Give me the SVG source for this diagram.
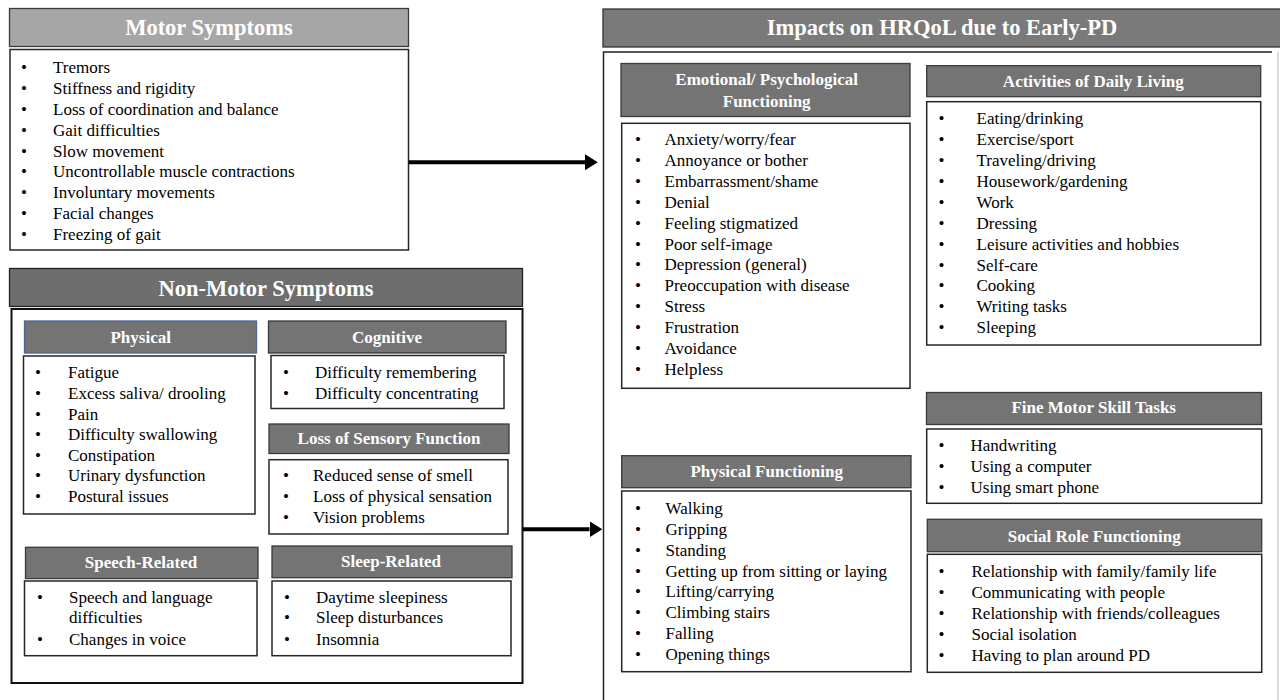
<svg xmlns="http://www.w3.org/2000/svg" width="1280" height="700" viewBox="0 0 1280 700">
<defs>
<style>
.hd{fill:#747474;stroke:#3a3a3a;stroke-width:1.3}
.lb{fill:#fff;stroke:#262626;stroke-width:1.5}
.ht{font-family:"Liberation Serif","Times New Roman",serif;font-weight:bold;fill:#fff;font-size:17px;text-anchor:middle}
.big{font-size:22.5px}
.it{font-family:"Liberation Serif","Times New Roman",serif;font-size:17px;fill:#000}
.bu{font-family:"Liberation Serif","Times New Roman",serif;font-size:17px;fill:#000;text-anchor:middle}
.ar{stroke:#000;stroke-width:4;fill:none}
</style>
<marker id="ah" markerWidth="4" markerHeight="4" refX="0" refY="2" orient="auto" markerUnits="strokeWidth"><path d="M0,0 L3.2,2 L0,4 Z" fill="#000"/></marker>
</defs>
<rect width="1280" height="700" fill="#fff"/>

<g id="motor">
<rect class="hd" x="9.5" y="8.5" width="399" height="38" style="fill:#a6a6a6"/>
<text class="ht big" x="209" y="35">Motor Symptoms</text>
<rect class="lb" x="10" y="49.5" width="398.5" height="200.5"/>
<g class="bu"><text x="24" y="73.3">•</text><text x="24" y="94.1">•</text><text x="24" y="114.9">•</text><text x="24" y="135.7">•</text><text x="24" y="156.5">•</text><text x="24" y="177.3">•</text><text x="24" y="198.1">•</text><text x="24" y="218.9">•</text><text x="24" y="239.7">•</text></g>
<g class="it">
<text x="53" y="73.3">Tremors</text>
<text x="53" y="94.1">Stiffness and rigidity</text>
<text x="53" y="114.9">Loss of coordination and balance</text>
<text x="53" y="135.7">Gait difficulties</text>
<text x="53" y="156.5">Slow movement</text>
<text x="53" y="177.3">Uncontrollable muscle contractions</text>
<text x="53" y="198.1">Involuntary movements</text>
<text x="53" y="218.9">Facial changes</text>
<text x="53" y="239.7">Freezing of gait</text>
</g>
</g>

<g id="nonmotor">
<rect class="hd" x="9.5" y="268.5" width="513" height="38" style="fill:#6e6e6e;stroke:#222"/>
<text class="ht big" x="266" y="296">Non-Motor Symptoms</text>
<rect x="11.5" y="309" width="511" height="374" fill="#fff" stroke="#111" stroke-width="2"/>
</g>

<g id="physical">
<rect class="hd" x="24.5" y="321" width="232" height="32" style="stroke:#4a6796"/>
<text class="ht" x="140.7" y="343">Physical</text>
<rect class="lb" x="23.5" y="356" width="231.5" height="158"/>
<g class="bu"><text x="38" y="378.3">•</text><text x="38" y="398.9">•</text><text x="38" y="419.5">•</text><text x="38" y="440.1">•</text><text x="38" y="460.7">•</text><text x="38" y="481.3">•</text><text x="38" y="501.9">•</text></g>
<g class="it">
<text x="68" y="378.3">Fatigue</text>
<text x="68" y="398.9">Excess saliva/ drooling</text>
<text x="68" y="419.5">Pain</text>
<text x="68" y="440.1">Difficulty swallowing</text>
<text x="68" y="460.7">Constipation</text>
<text x="68" y="481.3">Urinary dysfunction</text>
<text x="68" y="501.9">Postural issues</text>
</g>
</g>

<g id="cognitive">
<rect class="hd" x="268.5" y="321" width="237.5" height="32"/>
<text class="ht" x="387" y="343">Cognitive</text>
<rect class="lb" x="271" y="355.5" width="233" height="53"/>
<g class="bu"><text x="286" y="378.3">•</text><text x="286" y="399">•</text></g>
<g class="it">
<text x="315" y="378.3">Difficulty remembering</text>
<text x="315" y="399">Difficulty concentrating</text>
</g>
</g>

<g id="sensory">
<rect class="hd" x="269" y="424" width="240" height="29.5"/>
<text class="ht" x="389" y="444">Loss of Sensory Function</text>
<rect class="lb" x="269" y="459.7" width="239" height="74.3"/>
<g class="bu"><text x="286" y="481">•</text><text x="286" y="502">•</text><text x="286" y="523">•</text></g>
<g class="it">
<text x="313" y="481">Reduced sense of smell</text>
<text x="313" y="502">Loss of physical sensation</text>
<text x="313" y="523">Vision problems</text>
</g>
</g>

<g id="speech">
<rect class="hd" x="25.5" y="547.3" width="232.5" height="31.3"/>
<text class="ht" x="141" y="568">Speech-Related</text>
<rect class="lb" x="24.5" y="581" width="232.5" height="74.7"/>
<g class="bu"><text x="40" y="602.5">•</text><text x="40" y="644.5">•</text></g>
<g class="it">
<text x="69" y="602.5">Speech and language</text>
<text x="69" y="623.3">difficulties</text>
<text x="69" y="644.5">Changes in voice</text>
</g>
</g>

<g id="sleep">
<rect class="hd" x="272" y="546" width="240" height="31.7"/>
<text class="ht" x="391" y="567">Sleep-Related</text>
<rect class="lb" x="272" y="581" width="239" height="74.7"/>
<g class="bu"><text x="287" y="602.5">•</text><text x="287" y="623.3">•</text><text x="287" y="644.5">•</text></g>
<g class="it">
<text x="316" y="602.5">Daytime sleepiness</text>
<text x="316" y="623.3">Sleep disturbances</text>
<text x="316" y="644.5">Insomnia</text>
</g>
</g>

<g id="impacts">
<rect class="hd" x="603" y="9" width="690" height="38" style="fill:#7a7a7a;stroke:#333"/>
<text class="ht big" x="942" y="35">Impacts on HRQoL due to Early-PD</text>
<path d="M603.5,702 V52 H1272" fill="none" stroke="#222" stroke-width="1.5"/>
<line x1="1278" y1="52" x2="1278" y2="700" stroke="#d0d0d0" stroke-width="1.5"/>
</g>

<g id="emotional">
<rect class="hd" x="621" y="63.5" width="289" height="53"/>
<text class="ht" x="766.7" y="85">Emotional/ Psychological</text>
<text class="ht" x="766.7" y="106.7">Functioning</text>
<rect class="lb" x="621.7" y="123.3" width="288.3" height="265"/>
<g class="bu"><text x="638" y="145">•</text><text x="638" y="165.9">•</text><text x="638" y="186.8">•</text><text x="638" y="207.7">•</text><text x="638" y="228.6">•</text><text x="638" y="249.5">•</text><text x="638" y="270.4">•</text><text x="638" y="291.3">•</text><text x="638" y="312.2">•</text><text x="638" y="333.1">•</text><text x="638" y="354">•</text><text x="638" y="374.9">•</text></g>
<g class="it">
<text x="664.5" y="145">Anxiety/worry/fear</text>
<text x="664.5" y="165.9">Annoyance or bother</text>
<text x="664.5" y="186.8">Embarrassment/shame</text>
<text x="664.5" y="207.7">Denial</text>
<text x="664.5" y="228.6">Feeling stigmatized</text>
<text x="664.5" y="249.5">Poor self-image</text>
<text x="664.5" y="270.4">Depression (general)</text>
<text x="664.5" y="291.3">Preoccupation with disease</text>
<text x="664.5" y="312.2">Stress</text>
<text x="664.5" y="333.1">Frustration</text>
<text x="664.5" y="354">Avoidance</text>
<text x="664.5" y="374.9">Helpless</text>
</g>
</g>

<g id="adl">
<rect class="hd" x="926.7" y="65.7" width="334" height="31"/>
<text class="ht" x="1093.3" y="86.7">Activities of Daily Living</text>
<rect class="lb" x="926.7" y="101.7" width="334" height="243.3"/>
<g class="bu"><text x="941.5" y="124">•</text><text x="941.5" y="144.9">•</text><text x="941.5" y="165.9">•</text><text x="941.5" y="186.8">•</text><text x="941.5" y="207.7">•</text><text x="941.5" y="228.7">•</text><text x="941.5" y="249.6">•</text><text x="941.5" y="270.5">•</text><text x="941.5" y="291.4">•</text><text x="941.5" y="312.4">•</text><text x="941.5" y="333.3">•</text></g>
<g class="it">
<text x="976.5" y="124">Eating/drinking</text>
<text x="976.5" y="144.9">Exercise/sport</text>
<text x="976.5" y="165.9">Traveling/driving</text>
<text x="976.5" y="186.8">Housework/gardening</text>
<text x="976.5" y="207.7">Work</text>
<text x="976.5" y="228.7">Dressing</text>
<text x="976.5" y="249.6">Leisure activities and hobbies</text>
<text x="976.5" y="270.5">Self-care</text>
<text x="976.5" y="291.4">Cooking</text>
<text x="976.5" y="312.4">Writing tasks</text>
<text x="976.5" y="333.3">Sleeping</text>
</g>
</g>

<g id="finemotor">
<rect class="hd" x="926.5" y="392.5" width="335" height="32"/>
<text class="ht" x="1093.7" y="413.3">Fine Motor Skill Tasks</text>
<rect class="lb" x="926.7" y="429" width="335" height="74.3"/>
<g class="bu"><text x="941.5" y="450.7">•</text><text x="941.5" y="471.6">•</text><text x="941.5" y="492.5">•</text></g>
<g class="it">
<text x="970.5" y="450.7">Handwriting</text>
<text x="970.5" y="471.6">Using a computer</text>
<text x="970.5" y="492.5">Using smart phone</text>
</g>
</g>

<g id="social">
<rect class="hd" x="927.3" y="519.3" width="334.4" height="32.4"/>
<text class="ht" x="1094.3" y="541.7">Social Role Functioning</text>
<rect class="lb" x="927.3" y="554.3" width="334.4" height="118"/>
<g class="bu"><text x="941.5" y="577.3">•</text><text x="941.5" y="598.3">•</text><text x="941.5" y="619.3">•</text><text x="941.5" y="640.3">•</text><text x="941.5" y="661.3">•</text></g>
<g class="it">
<text x="971.5" y="577.3">Relationship with family/family life</text>
<text x="971.5" y="598.3">Communicating with people</text>
<text x="971.5" y="619.3">Relationship with friends/colleagues</text>
<text x="971.5" y="640.3">Social isolation</text>
<text x="971.5" y="661.3">Having to plan around PD</text>
</g>
</g>

<g id="physfunc">
<rect class="hd" x="621.7" y="455.7" width="289.3" height="32"/>
<text class="ht" x="766.7" y="476.7">Physical Functioning</text>
<rect class="lb" x="621.7" y="491" width="289.3" height="180.7"/>
<g class="bu"><text x="638" y="514">•</text><text x="638" y="534.9">•</text><text x="638" y="555.7">•</text><text x="638" y="576.6">•</text><text x="638" y="597.4">•</text><text x="638" y="618.3">•</text><text x="638" y="639.2">•</text><text x="638" y="660">•</text></g>
<g class="it">
<text x="665.5" y="514">Walking</text>
<text x="665.5" y="534.9">Gripping</text>
<text x="665.5" y="555.7">Standing</text>
<text x="665.5" y="576.6">Getting up from sitting or laying</text>
<text x="665.5" y="597.4">Lifting/carrying</text>
<text x="665.5" y="618.3">Climbing stairs</text>
<text x="665.5" y="639.2">Falling</text>
<text x="665.5" y="660">Opening things</text>
</g>
</g>

<g id="connectors">
<line class="ar" x1="409" y1="162.3" x2="585" y2="162.3" marker-end="url(#ah)"/>
<line class="ar" x1="523" y1="529.3" x2="589.5" y2="529.3" marker-end="url(#ah)"/>
</g>
</svg>
